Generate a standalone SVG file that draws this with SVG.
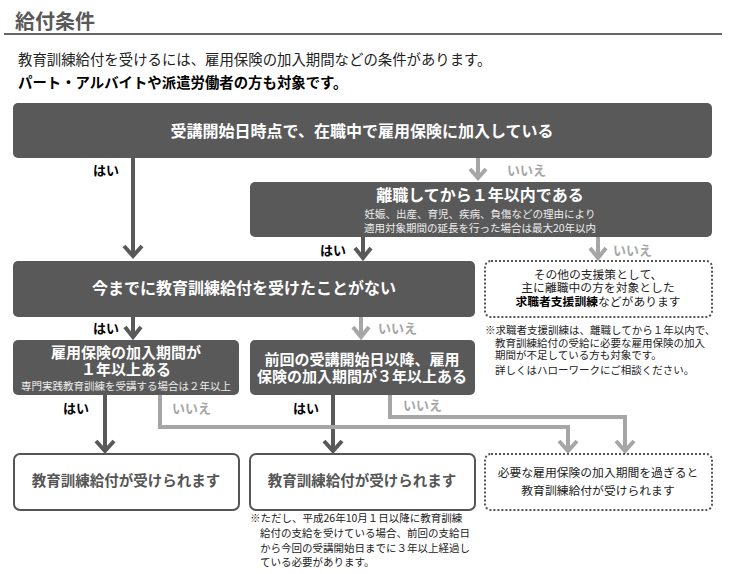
<svg xmlns="http://www.w3.org/2000/svg" width="730" height="574" viewBox="0 0 730 574">
<style>
text{font-family:"Noto Sans CJK JP","Noto Sans",sans-serif;}
.dk{fill:#595959;}
.wt{fill:#ffffff;font-weight:bold;font-size:16px;text-anchor:middle;}
.sm{fill:#eeeeee;font-size:10.5px;text-anchor:middle;}
.res{fill:#ffffff;stroke:#555555;stroke-width:2;}
.rest{fill:#555555;font-weight:bold;font-size:14.5px;text-anchor:middle;}
.dot{fill:#ffffff;stroke:#555555;stroke-width:2;stroke-dasharray:2 2;}
.dt{fill:#222222;font-size:11.8px;text-anchor:middle;}
.note{fill:#222222;font-size:10.5px;}
.yes{fill:#000000;font-weight:bold;font-size:13px;}
.no{fill:#a6a6a6;font-weight:bold;font-size:13px;}
.ad{fill:none;stroke:#595959;stroke-width:4;}
.ag{fill:none;stroke:#a6a6a6;stroke-width:4;}
</style>
<text x="15" y="29" style="font-size:20px;font-weight:bold;fill:#595959">給付条件</text>
<line x1="4" y1="34" x2="722" y2="34" stroke="#666666" stroke-width="2"/>
<text x="18" y="65" style="font-size:14.4px;fill:#222222">教育訓練給付を受けるには、雇用保険の加入期間などの条件があります。</text>
<text x="18" y="88" style="font-size:14.4px;font-weight:bold;fill:#000000">パート・アルバイトや派遣労働者の方も対象です。</text>

<g id="connectors">
<path class="ad" d="M133 158V255M124 246L133 256L142 246"/>
<path class="ag" d="M478 158V177M470 169L478 178L486 169"/>
<path class="ad" d="M363 237V257M355 248L363 258L371 248"/>
<path class="ag" d="M598 237V257M590 248L598 258L606 248"/>
<path class="ad" d="M133 317V336M125 327L133 337L141 327"/>
<path class="ag" d="M361 317V336M353 327L361 337L369 327"/>
<path class="ad" d="M105 395V450M96 441L105 451L114 441"/>
<path class="ad" d="M333 395V450M324 441L333 451L342 441"/>
<path class="ag" d="M160 395V427H568V450M559 441L568 451L577 441"/>
<path class="ag" d="M390 395V417H625V450M616 441L625 451L634 441"/>
</g>
<g id="labels">
<text class="yes" x="93" y="175">はい</text>
<text class="no" x="507" y="175">いいえ</text>
<text class="yes" x="320" y="255">はい</text>
<text class="no" x="613" y="255">いいえ</text>
<text class="yes" x="93" y="333">はい</text>
<text class="no" x="378" y="333">いいえ</text>
<text class="yes" x="63" y="413">はい</text>
<text class="no" x="172" y="413">いいえ</text>
<text class="yes" x="293" y="413">はい</text>
<text class="no" x="403" y="410">いいえ</text>
</g>

<g id="n1">
<rect class="dk" x="13" y="103" width="699" height="55" rx="5"/>
<text class="wt" x="362" y="137">受講開始日時点で、在職中で雇用保険に加入している</text>
</g>
<g id="n2">
<rect class="dk" x="250" y="182" width="462" height="55" rx="5"/>
<text class="wt" x="480" y="201">離職してから１年以内である</text>
<text class="sm" x="480" y="218">妊娠、出産、育児、疾病、負傷などの理由により</text>
<text class="sm" x="480" y="232">適用対象期間の延長を行った場合は最大20年以内</text>
</g>
<g id="n3">
<rect class="dk" x="13" y="261" width="462" height="56" rx="5"/>
<text class="wt" x="244" y="294">今までに教育訓練給付を受けたことがない</text>
</g>
<g id="n4">
<rect class="dot" x="485" y="261" width="227" height="56" rx="6"/>
<text class="dt" x="598" y="279">その他の支援策として、</text>
<text class="dt" x="598" y="292">主に離職中の方を対象とした</text>
<text class="dt" x="598" y="306"><tspan font-weight="bold" fill="#000">求職者支援訓練</tspan>などがあります</text>
</g>
<g id="note1">
<text class="note" x="485" y="334">※求職者支援訓練は、離職してから１年以内で、</text>
<text class="note" x="495" y="347">教育訓練給付の受給に必要な雇用保険の加入</text>
<text class="note" x="495" y="359">期間が不足している方も対象です。</text>
<text class="note" x="495" y="374">詳しくはハローワークにご相談ください。</text>
</g>
<g id="n5">
<rect class="dk" x="13" y="340" width="226" height="55" rx="5"/>
<text class="wt" x="126" y="358" style="font-size:15px">雇用保険の加入期間が</text>
<text class="wt" x="126" y="375" style="font-size:15px">１年以上ある</text>
<text class="sm" x="126" y="390">専門実践教育訓練を受講する場合は２年以上</text>
</g>
<g id="n6">
<rect class="dk" x="250" y="340" width="225" height="55" rx="5"/>
<text class="wt" x="362" y="365" style="font-size:15px">前回の受講開始日以降、雇用</text>
<text class="wt" x="362" y="382" style="font-size:15px">保険の加入期間が３年以上ある</text>
</g>
<g id="n7">
<rect class="res" x="14" y="454" width="225" height="56" rx="6"/>
<text class="rest" x="126" y="486">教育訓練給付が受けられます</text>
</g>
<g id="n8">
<rect class="res" x="250" y="454" width="225" height="56" rx="6"/>
<text class="rest" x="362" y="486">教育訓練給付が受けられます</text>
</g>
<g id="n9">
<rect class="dot" x="485" y="454" width="227" height="56" rx="6"/>
<text class="dt" x="598" y="477">必要な雇用保険の加入期間を過ぎると</text>
<text class="dt" x="598" y="495">教育訓練給付が受けられます</text>
</g>
<g id="note2">
<text class="note" x="250" y="522">※ただし、平成26年10月１日以降に教育訓練</text>
<text class="note" x="260" y="537">給付の支給を受けている場合、前回の支給日</text>
<text class="note" x="260" y="552">から今回の受講開始日までに３年以上経過し</text>
<text class="note" x="260" y="566">ている必要があります。</text>
</g>
</svg>
